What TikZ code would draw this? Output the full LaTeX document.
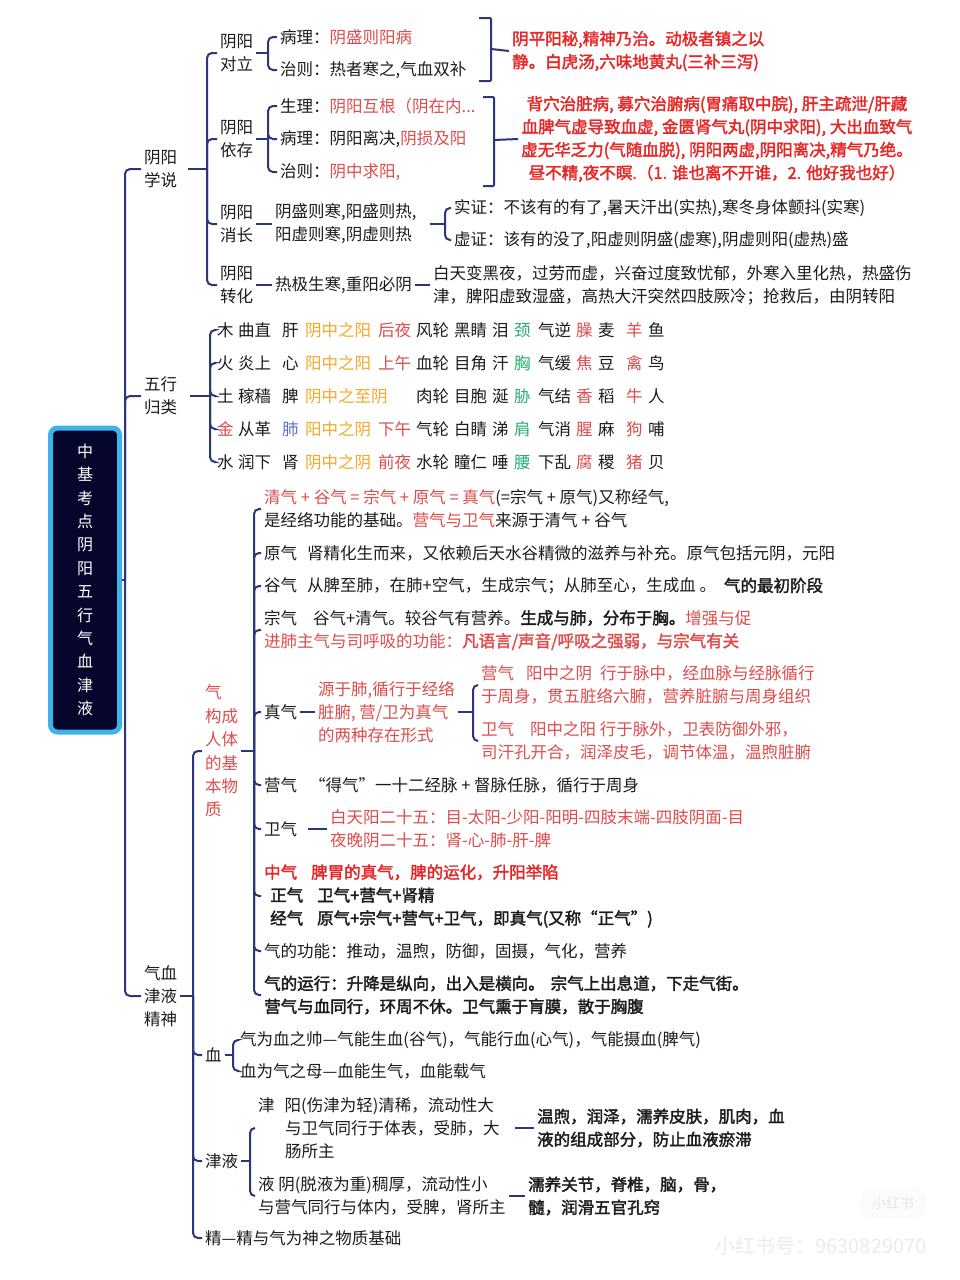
\documentclass[tikz,border=0pt]{standalone}
\usepackage{fontspec}
\setmainfont{Noto Sans CJK SC}[AutoFakeBold=2]
\usepackage{xcolor}
\usetikzlibrary{calc}
\definecolor{xiannavy}{RGB}{44,54,122}
\definecolor{mokuai}{RGB}{6,6,44}
\definecolor{qianlan}{RGB}{62,178,234}
\definecolor{hong}{RGB}{222,76,76}
\definecolor{shenhong}{RGB}{232,38,38}
\definecolor{cheng}{RGB}{246,168,40}
\definecolor{lv}{RGB}{38,172,116}
\definecolor{lan}{RGB}{86,112,200}
\definecolor{mo}{RGB}{28,28,28}
\newcommand{\redt}[1]{\textcolor{hong}{#1}}
\newcommand{\bredt}[1]{\textcolor{shenhong}{\bfseries #1}}
\newcommand{\orgt}[1]{\textcolor{cheng}{#1}}
\newcommand{\grnt}[1]{\textcolor{lv}{#1}}
\newcommand{\blut}[1]{\textcolor{lan}{#1}}
\newcommand{\wxc}[2]{\makebox[#1pt][l]{#2}}

\begin{document}
\begin{tikzpicture}[x=1pt, y=-1pt,
    br/.style={draw=xiannavy, line width=2pt, rounded corners=5pt},
    txt/.style={anchor=west, inner xsep=3pt, inner ysep=1pt, text=mo, align=left,
        font=\fontsize{16.5}{23}\selectfont},
    note/.style={txt, text=shenhong, font=\fontsize{16.5}{23}\selectfont\bfseries},
    rootbox/.style={draw=qianlan, line width=5pt, fill=mokuai, rounded corners=7pt,
        minimum width=69pt, minimum height=304pt, text=white, align=center,
        font=\fontsize{16}{23.4}\selectfont}
]
    \useasboundingbox[fill=white] (0,0) rectangle (960,1280);

    % root and first level
    \node[rootbox] (root) at (85,580) {中\\基\\考\\点\\阴\\阳\\五\\行\\气\\血\\津\\液};
    \coordinate (t0) at (125,580);
    \node[txt] (ys) at (141,169) {阴阳\\学说};
    \node[txt] (wx) at (141,396) {五行\\归类};
    \node[txt] (qx) at (141,996) {气血\\津液\\精神};

    \draw[br] (root.east) -- (t0);
    \draw[br] (t0) |- (ys.west);
    \draw[br] (t0) |- (wx.west);
    \draw[br] (t0) |- (qx.west);

    % yin yang
    \coordinate (b1) at (207,169);
    \node[txt] (dl) at (217,53) {阴阳\\对立};
    \node[txt] (yc) at (217,139) {阴阳\\依存};
    \node[txt] (xz) at (217,224) {阴阳\\消长};
    \node[txt] (zh) at (217,285) {阴阳\\转化};
    \draw[br, shorten <=8pt] (ys.east) -- (b1);
    \foreach \n in {dl,yc,xz,zh} \draw[br] (b1) |- (\n.west);

    \coordinate (b2) at (268,53);
    \node[txt] (dl1) at (277,37) {病理：\redt{阴盛则阳病}};
    \node[txt] (dl2) at (277,70) {治则：热者寒之,气血双补};
    \draw[br] (dl.east) -- (b2);
    \draw[br] (b2) |- (dl1.west);
    \draw[br] (b2) |- (dl2.west);
    \node[note] (dln) at (509,51) {阴平阳秘,精神乃治。动极者镇之以\\静。白虎汤,六味地黄丸(三补三泻)};
    \draw[br, rounded corners=1pt] (479,18) -| (491,81) -- (479,81);
    \draw[br] (491,49) -- (dln.west);

    \coordinate (b3) at (268,139);
    \node[txt] (yc1) at (277,106) {生理：\redt{阴阳互根（阴在内...}};
    \node[txt] (yc2) at (277,139) {病理：阴阳离决,\redt{阴损及阳}};
    \node[txt] (yc3) at (277,172) {治则：\redt{阴中求阳,}};
    \draw[br] (yc.east) -- (b3);
    \foreach \n in {yc1,yc2,yc3} \draw[br] (b3) |- (\n.west);
    \node[note, anchor=center, align=center] (ycn) at (717,139)
        {背穴治脏病, 募穴治腑病(胃痛取中脘), 肝主疏泄/肝藏\\
         血脾气虚导致血虚, 金匮肾气丸(阴中求阳), 大出血致气\\
         虚无华乏力(气随血脱), 阴阳两虚,阴阳离决,精气乃绝。\\
         昼不精,夜不瞑.（1. 谁也离不开谁，2. 他好我也好）};
    \draw[br, rounded corners=1pt] (483,97) -| (494,186) -- (483,186);
    \draw[br] (494,140) -- (ycn.west);

    \node[txt] (xz1) at (272,224) {阴盛则寒,阳盛则热,\\阳虚则寒,阴虚则热};
    \coordinate (b4) at (445,224);
    \node[txt] (xs1) at (451,208) {实证：不该有的有了,暑天汗出(实热),寒冬身体颤抖(实寒)};
    \node[txt] (xs2) at (451,240) {虚证：该有的没了,阳虚则阴盛(虚寒),阴虚则阳(虚热)盛};
    \draw[br] (xz.east) -- (xz1.west);
    \draw[br, shorten <=10pt] (xz1.east) -- (b4);
    \draw[br] (b4) |- (xs1.west);
    \draw[br] (b4) |- (xs2.west);

    \node[txt] (zh1) at (272,285) {热极生寒,重阳必阴};
    \node[txt] (zh2) at (430,285) {白天变黑夜，过劳而虚，兴奋过度致忧郁，外寒入里化热，热盛伤\\津，脾阳虚致湿盛，高热大汗突然四肢厥冷；抢救后，由阴转阳};
    \draw[br] (zh.east) -- (zh1.west);
    \draw[br] (zh1.east) -- (zh2.west);

    % five phases
    \coordinate (b5) at (210,396);
    \node[txt] (w1) at (214,330) {\wxc{21}{木}\wxc{44}{曲直}\wxc{23}{肝}\wxc{73}{\orgt{阴中之阳}}\wxc{38}{\redt{后夜}}\wxc{38}{风轮}\wxc{38}{黑睛}\wxc{22}{泪}\wxc{24}{\grnt{颈}}\wxc{38}{气逆}\wxc{22}{\redt{臊}}\wxc{28}{麦}\wxc{22}{\redt{羊}}鱼};
    \node[txt] (w2) at (214,363) {\wxc{21}{火}\wxc{44}{炎上}\wxc{23}{心}\wxc{73}{\orgt{阳中之阳}}\wxc{38}{\redt{上午}}\wxc{38}{血轮}\wxc{38}{目角}\wxc{22}{汗}\wxc{24}{\grnt{胸}}\wxc{38}{气缓}\wxc{22}{\redt{焦}}\wxc{28}{豆}\wxc{22}{\redt{禽}}鸟};
    \node[txt] (w3) at (214,396) {\wxc{21}{土}\wxc{44}{稼穑}\wxc{23}{脾}\wxc{111}{\orgt{阴中之至阴}}\wxc{38}{肉轮}\wxc{38}{目胞}\wxc{22}{涎}\wxc{24}{\grnt{胁}}\wxc{38}{气结}\wxc{22}{\redt{香}}\wxc{28}{稻}\wxc{22}{\redt{牛}}人};
    \node[txt] (w4) at (214,429) {\wxc{21}{\redt{金}}\wxc{44}{从革}\wxc{23}{\blut{肺}}\wxc{73}{\orgt{阳中之阴}}\wxc{38}{\redt{下午}}\wxc{38}{气轮}\wxc{38}{白睛}\wxc{22}{涕}\wxc{24}{\grnt{肩}}\wxc{38}{气消}\wxc{22}{\redt{腥}}\wxc{28}{麻}\wxc{22}{\redt{狗}}哺};
    \node[txt] (w5) at (214,462) {\wxc{21}{水}\wxc{44}{润下}\wxc{23}{肾}\wxc{73}{\orgt{阴中之阴}}\wxc{38}{\redt{前夜}}\wxc{38}{水轮}\wxc{38}{瞳仁}\wxc{22}{唾}\wxc{24}{\grnt{腰}}\wxc{38}{下乱}\wxc{22}{\redt{腐}}\wxc{28}{稷}\wxc{22}{\redt{猪}}贝};
    \draw[br, shorten <=10pt] (wx.east) -- (b5);
    \foreach \n in {w1,w2,w3,w4,w5} \draw[br] (b5) |- (\n.west);

    % qi, blood, fluids, essence
    \coordinate (b6) at (193,996);
    \node[txt, text=hong, font=\fontsize{16.5}{23.4}\selectfont] (qg) at (202,751) {气\\构成\\人体\\的基\\本物\\质};
    \node[txt] (xue) at (202,1055) {血};
    \node[txt] (jy) at (202,1161) {津液};
    \node[txt] (jing) at (202,1238) {精—精与气为神之物质基础};
    \draw[br] (qx.east) -- (b6);
    \foreach \n in {qg,xue,jy,jing} \draw[br] (b6) |- (\n.west);

    \coordinate (b7) at (254,751);
    \node[txt] (q1) at (261,509) {\redt{清气 + 谷气 = 宗气 + 原气 = 真气}(=宗气 + 原气)又称经气,\\是经络功能的基础。\redt{营气与卫气}来源于清气 + 谷气};
    \node[txt] (q2) at (261,553) {原气\hspace{10pt}肾精化生而来，又依赖后天水谷精微的滋养与补充。原气包括元阴，元阳};
    \node[txt] (q3) at (261,586) {谷气\hspace{10pt}从脾至肺，在肺+空气，生成宗气；从肺至心，生成血 。\hspace{8pt}\textbf{气的最初阶段}};
    \node[txt] (q4) at (261,630) {宗气\hspace{16pt}谷气+清气。较谷气有营养。\textbf{生成与肺，分布于胸。}\redt{增强与促}\\
        \redt{进肺主气与司呼吸的功能：\textbf{凡语言/声音/呼吸之强弱，与宗气有关}}};
    \node[txt] (q5) at (261,712) {真气};
    \node[txt] (q6) at (261,785) {营气\hspace{12pt}“得气”一十二经脉 + 督脉任脉，循行于周身};
    \node[txt] (q7) at (261,829) {卫气};
    \node[txt] (q8) at (261,896) {\bredt{中气\hspace{14pt}脾胃的真气，脾的运化，升阳举陷}\\
        \hspace*{6pt}\textbf{正气\hspace{14pt}卫气+营气+肾精}\\
        \hspace*{6pt}\textbf{经气\hspace{14pt}原气+宗气+营气+卫气，即真气(又称“正气”)}};
    \node[txt] (q9) at (261,951) {气的功能：推动，温煦，防御，固摄，气化，营养};
    \node[txt, font=\fontsize{16.5}{23}\selectfont\bfseries] (q10) at (261,995) {气的运行：升降是纵向，出入是横向。\hspace{6pt}宗气上出息道，下走气街。\\营气与血同行，环周不休。卫气熏于肓膜，散于胸腹};
    \draw[br] (qg.east) -- (b7);
    \foreach \n in {q1,q2,q3,q4,q5,q6,q7,q8,q9,q10} \draw[br] (b7) |- (\n.west);

    \node[txt, text=hong] (zq1) at (315,712) {源于肺,循行于经络\\脏腑, 营/卫为真气\\的两种存在形式};
    \coordinate (b8) at (473,712);
    \node[txt, text=hong] (zq2) at (478,685) {营气\hspace{12pt}阳中之阴\hspace{8pt}行于脉中，经血脉与经脉循行\\于周身，贯五脏络六腑，营养脏腑与周身组织};
    \node[txt, text=hong] (zq3) at (478,741) {卫气\hspace{16pt}阳中之阳 行于脉外，卫表防御外邪，\\司汗孔开合，润泽皮毛，调节体温，温煦脏腑};
    \draw[br] (q5.east) -- (zq1.west);
    \draw[br] (zq1.east) -- (b8);
    \draw[br] (b8) |- (zq2.west);
    \draw[br] (b8) |- (zq3.west);

    \node[txt, text=hong] (wq1) at (327,829) {白天阳二十五：目-太阳-少阳-阳明-四肢末端-四肢阴面-目\\夜晚阴二十五：肾-心-肺-肝-脾};
    \draw[br, shorten <=8pt] (q7.east) -- (wq1.west);

    \coordinate (b9) at (233,1055);
    \node[txt] (x1) at (237,1040) {气为血之帅—气能生血(谷气)，气能行血(心气)，气能摄血(脾气)};
    \node[txt] (x2) at (237,1071) {血为气之母—血能生气，血能载气};
    \draw[br] (xue.east) -- (b9);
    \draw[br] (b9) |- (x1.west);
    \draw[br] (b9) |- (x2.west);

    \coordinate (b10) at (250,1161);
    \node[txt] (j1) at (255,1128) {津\hspace{10pt}阳(伤津为轻)清稀，流动性大\\\hspace*{27pt}与卫气同行于体表，受肺，大\\\hspace*{27pt}肠所主};
    \node[txt] (j2) at (255,1196) {液 阴(脱液为重)稠厚，流动性小\\与营气同行与体内，受脾，肾所主};
    \node[txt, font=\fontsize{16.5}{23}\selectfont\bfseries] (jn1) at (534,1128) {温煦，润泽，濡养皮肤，肌肉，血\\液的组成部分，防止血液瘀滞};
    \node[txt, font=\fontsize{16.5}{23}\selectfont\bfseries] (jn2) at (525,1196) {濡养关节，脊椎，脑，骨，\\髓，润滑五官孔窍};
    \draw[br] (jy.east) -- (b10);
    \draw[br] (b10) |- (j1.west);
    \draw[br] (b10) |- (j2.west);
    \draw[br, shorten <=12pt] (j1.east) -- (jn1.west);
    \draw[br] (j2.east) -- (jn2.west);

    % watermark
    \node[rounded corners=12pt, draw=gray!8, fill=gray!3, text=gray!18, font=\fontsize{14}{16}\selectfont,
        minimum width=64pt, minimum height=28pt] (logo) at (893,1203) {小红书};
    \node[text=gray!16, font=\fontsize{20}{22}\selectfont] (wm) at (821,1246) {小红书号：9630829070};
\end{tikzpicture}
\end{document}
